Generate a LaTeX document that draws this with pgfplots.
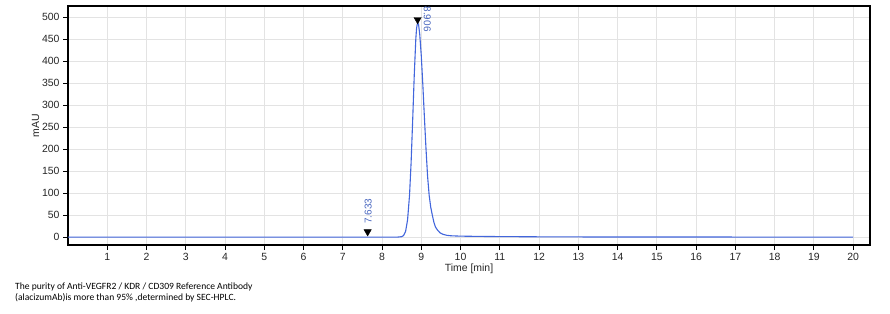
\documentclass[border=0pt]{standalone}
\usepackage{fontspec}
\setmainfont{Liberation Sans}
\newfontfamily\capfont{Carlito}
\usepackage{pgfplots}
\pgfplotsset{compat=1.18}
\usetikzlibrary{calc}
\definecolor{trace}{RGB}{66,102,220}
\definecolor{lbl}{RGB}{70,100,190}
\begin{document}
\begin{tikzpicture}[x=1bp,y=1bp]
\begin{axis}[
  name=ax,
  at={(0,0)}, anchor=south west,
  scale only axis,
  width=802bp, height=239bp,
  xmin=0, xmax=20.43, ymin=-18, ymax=525,
  xtick={1,...,20}, ytick={0,50,...,500},
  xtick pos=bottom, ytick pos=left,
  tick align=outside,
  major tick length=5bp,
  tick style={black, line width=0.9bp},
  axis line style={black, line width=1.2bp},
  grid=major,
  major grid style={draw=black!11, line width=0.8bp},
  /pgf/number format/assume math mode=true,
  ticklabel style={font=\fontsize{10.5}{12}\selectfont, text=black!85},
  xlabel={Time [min]}, ylabel={mAU},
  label style={font=\fontsize{10.5}{12}\selectfont, text=black!85},
  xlabel style={yshift=4bp},
  ylabel style={yshift=-4bp},
  clip=false,
]
\addplot[trace, line width=1.1bp] coordinates {
(0,0) (8.40,0) (8.50,0.9) (8.55,3.7) (8.60,13) (8.65,39) (8.70,95) (8.74,169)
(8.78,265) (8.82,367) (8.86,450) (8.88,475) (8.906,488) (8.93,483) (8.96,461)
(9.00,411) (9.04,344) (9.08,270) (9.12,200) (9.16,138) (9.20,95) (9.24,68)
(9.28,50) (9.32,34) (9.36,23) (9.42,15) (9.48,9.5) (9.56,6) (9.65,4) (9.75,3)
(9.90,2.4) (10.1,2) (10.5,1.5) (11,1.1) (12,0.6) (13,0.3) (15,0.1) (20,0)
};
\addplot[only marks, mark=triangle*, mark size=4.2bp, black,
  every mark/.append style={rotate=180}] coordinates {(7.633,12) (8.906,494)};
\addplot[only marks, mark=none, nodes near coords, point meta=explicit symbolic,
  nodes near coords style={rotate=90, anchor=west, inner sep=0pt, text=lbl,
  font=\fontsize{10}{12}\selectfont}] coordinates {(7.65,30) [7.633]};
\addplot[only marks, mark=none, nodes near coords, point meta=explicit symbolic,
  nodes near coords style={rotate=-90, anchor=west, inner sep=0pt, text=lbl,
  font=\fontsize{10}{12}\selectfont}] coordinates {(9.15,524) [8.906]};
\end{axis}
\node[anchor=north west, inner sep=0pt, align=left, font=\capfont\fontsize{9.6}{10.5}\selectfont]
  at ($(ax.south west)+(-53bp,-38bp)$)
  {The purity of Anti-VEGFR2 / KDR / CD309 Reference Antibody\\(alacizumAb)is more than 95\% ,determined by SEC-HPLC.};
\pgfresetboundingbox
\path[use as bounding box] ($(ax.south west)+(-68bp,-69bp)$) rectangle ($(ax.north east)+(20bp,6bp)$);
\end{tikzpicture}
\end{document}
